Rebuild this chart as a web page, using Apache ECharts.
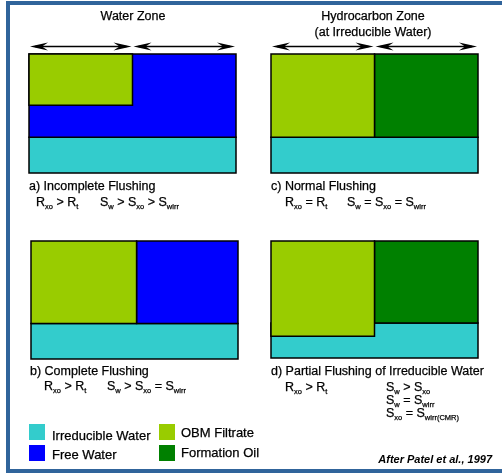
<!DOCTYPE html>
<html><head><meta charset="utf-8">
<script src="https://cdn.jsdelivr.net/npm/echarts@6/dist/echarts.min.js"></script>
<style>html,body{margin:0;padding:0;background:#fff}#c{width:502px;height:473px}</style>
</head><body><div id="c"></div>
<script>
// Fluid categories and colours
const fluids = ['Irreducible Water', 'Free Water', 'OBM Filtrate', 'Formation Oil'];
const fluidColors = ['#33cccc', '#0000ff', '#99cc00', '#008000'];
// Blocks per panel: [x0, x1, y0, y1, fluidIndex] (x: % pore volume, y: % height)
const panelA = [[0, 100, 0, 30, 0], [0, 100, 30, 100, 1], [0, 50, 57, 100, 2]];
const panelB = [[0, 100, 0, 30, 0], [51, 100, 30, 100, 1], [0, 51, 30, 100, 2]];
const panelC = [[0, 100, 0, 30, 0], [50, 100, 30, 100, 3], [0, 50, 30, 100, 2]];
const panelD = [[0, 100, 0, 30, 0], [50, 100, 30, 100, 3], [0, 50, 18.5, 100, 2]];
// Arrow spans above the top panels
const arrowSpans = [[0, 50], [50, 100]];

const chart = echarts.init(document.getElementById('c'));

function blockRender(params, api) {
  const p0 = api.coord([api.value(0), api.value(3)]);
  const p1 = api.coord([api.value(1), api.value(2)]);
  return {
    type: 'rect',
    shape: { x: p0[0], y: p0[1], width: p1[0] - p0[0], height: p1[1] - p0[1] },
    style: { fill: fluidColors[api.value(4)], stroke: '#000', lineWidth: 1.5 }
  };
}
function arrowRender(params, api) {
  const a = api.coord([api.value(0), 100]);
  const b = api.coord([api.value(1), 100]);
  const y = a[1] - 7.5;
  const x0 = a[0] + 1, x1 = b[0] - 1;
  const L = 18, W = 4, n = 6;
  return {
    type: 'group',
    children: [
      { type: 'line', shape: { x1: x0 + 5, y1: y, x2: x1 - 5, y2: y }, style: { stroke: '#000', lineWidth: 1.3 } },
      { type: 'polygon', shape: { points: [[x0, y], [x0 + L, y - W], [x0 + L - n, y], [x0 + L, y + W]] }, style: { fill: '#000' } },
      { type: 'polygon', shape: { points: [[x1, y], [x1 - L, y - W], [x1 - L + n, y], [x1 - L, y + W]] }, style: { fill: '#000' } }
    ]
  };
}

const grids = [
  { left: 29, top: 54, width: 207, height: 119 },
  { left: 31, top: 241, width: 207, height: 118 },
  { left: 271, top: 54, width: 207, height: 119 },
  { left: 271, top: 241, width: 207, height: 117 }
];
const panels = [panelA, panelB, panelC, panelD];
const xAxes = grids.map((g, i) => ({ type: 'value', gridIndex: i, min: 0, max: 100, show: false }));
const yAxes = grids.map((g, i) => ({ type: 'value', gridIndex: i, min: 0, max: 100, show: false }));
const series = panels.map((p, i) => ({
  type: 'custom', xAxisIndex: i, yAxisIndex: i, renderItem: blockRender, data: p,
  encode: { x: [0, 1], y: [2, 3] }, silent: true, animation: false
}));
[0, 2].forEach(i => series.push({
  type: 'custom', xAxisIndex: i, yAxisIndex: i, renderItem: arrowRender, data: arrowSpans,
  encode: { x: [0, 1] }, silent: true, animation: false
}));

const FONT = 'Liberation Sans, Arial, sans-serif';
const rich = {
  m: { fontSize: 12.5, lineHeight: 16, fontFamily: FONT, color: '#000' },
  s: { fontSize: 7.5, lineHeight: 8, padding: [7, 0, 0, 0], verticalAlign: 'bottom', fontFamily: FONT, color: '#000' }
};
// Build a rich string: parts alternate main / subscript
function sub(parts) {
  return parts.map((p, i) => (i % 2 === 0 ? '{m|' + p + '}' : '{s|' + p + '}')).join('');
}
function txt(x, y, text, opts) {
  opts = opts || {};
  return {
    type: 'text', x: x, y: y, silent: true,
    style: {
      text: text, fill: '#000', font: (opts.weight || 'normal') + ' ' + (opts.size || 12.5) + 'px ' + FONT,
      textAlign: opts.align || 'left', textVerticalAlign: 'middle', rich: rich,
      stroke: opts.noStroke ? null : '#000', lineWidth: opts.noStroke ? 0 : 0.25
    }
  };
}
const frameColor = '#30649b';
const graphic = [
  { type: 'rect', shape: { x: 6, y: 1, width: 496, height: 4 }, style: { fill: frameColor } },
  { type: 'rect', shape: { x: 6, y: 1, width: 4, height: 472 }, style: { fill: frameColor } },
  { type: 'rect', shape: { x: 6, y: 469, width: 496, height: 4 }, style: { fill: frameColor } },
  txt(133, 17, 'Water Zone', { align: 'center' }),
  txt(373, 17, 'Hydrocarbon Zone', { align: 'center' }),
  txt(373, 33, '(at Irreducible Water)', { align: 'center' }),
  txt(29, 187, 'a) Incomplete Flushing'),
  txt(36, 203, sub(['R', 'xo', ' > R', 't'])),
  txt(100, 203, sub(['S', 'w', ' > S', 'xo', ' > S', 'wirr'])),
  txt(271, 187, 'c) Normal Flushing'),
  txt(285, 203, sub(['R', 'xo', ' = R', 't'])),
  txt(347, 203, sub(['S', 'w', ' = S', 'xo', ' = S', 'wirr'])),
  txt(30, 372, 'b) Complete Flushing'),
  txt(44, 387, sub(['R', 'xo', ' > R', 't'])),
  txt(107, 387, sub(['S', 'w', ' > S', 'xo', ' = S', 'wirr'])),
  txt(271, 372, 'd) Partial Flushing of Irreducible Water'),
  txt(285, 388, sub(['R', 'xo', ' > R', 't'])),
  txt(386, 388, sub(['S', 'w', ' > S', 'xo'])),
  txt(386, 401, sub(['S', 'w', ' = S', 'wirr'])),
  txt(386, 414, sub(['S', 'xo', ' = S', 'wirr(CMR)'])),
  txt(492, 460, 'After Patel et al., 1997', { align: 'right', size: 11, weight: 'italic bold', noStroke: true })
];
// Legend
const legendPos = [[29, 424], [29, 445], [159, 424], [159, 445]];
const legendTextY = [436, 455, 433, 453];
fluids.forEach((f, i) => {
  graphic.push({ type: 'rect', shape: { x: legendPos[i][0], y: legendPos[i][1], width: 16, height: 16 }, style: { fill: fluidColors[i] } });
  graphic.push(txt(legendPos[i][0] + (i < 2 ? 23 : 22), legendTextY[i], f, { size: 13 }));
});

chart.setOption({
  animation: false,
  grid: grids, xAxis: xAxes, yAxis: yAxes, series: series, graphic: graphic
});
</script>
</body></html>
